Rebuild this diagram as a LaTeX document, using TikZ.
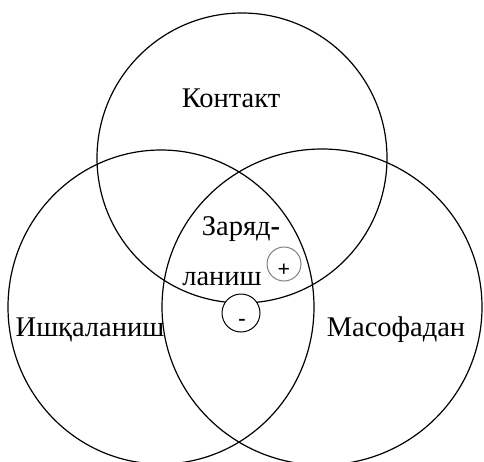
\documentclass[tikz,border=0pt]{standalone}
\usepackage{fontspec}
\setmainfont{Liberation Serif}
\begin{document}
\begin{tikzpicture}[x=1pt, y=-1pt,
  set/.style={draw=black, line width=1.2pt},
  word/.style={font=\fontsize{28.5}{32}\selectfont, inner sep=0pt, anchor=base},
  charge/.style={circle, draw=black, fill=white, line width=1pt, inner sep=0pt},
  sign/.style={font=\fontsize{22}{24}\selectfont\bfseries, inner sep=0pt}]

  % Page frame
  \clip (0,0) rectangle (484,461);

  % Draw the three sets
  \draw[set] (242,158) circle [radius=145];
  \draw[set] (161,307) ellipse [x radius=153, y radius=157];
  \draw[set] (322,307) ellipse [x radius=160, y radius=158];

  % Set labels
  \node[word] (kontakt) at (231,107) {Контакт};
  \node[word] (ishqalanish) at (90,336) {Ишқаланиш};
  \node[word] (masofadan) at (396,336) {Масофадан};
  \node[word] (zaryad) at (241,235) {Заряд\textbf{-}};
  \node[word] (lanish) at (222,285) {ланиш};

  % Charges
  \node[charge, draw=gray, minimum size=34pt] (plus) at (284,264) {};
  \node[sign] (plussign) at (284,270) {+};
  \node[charge, minimum size=38pt] (minus) at (241,313) {};
  \node[sign] (minussign) at (242,322) {-};

\end{tikzpicture}
\end{document}
